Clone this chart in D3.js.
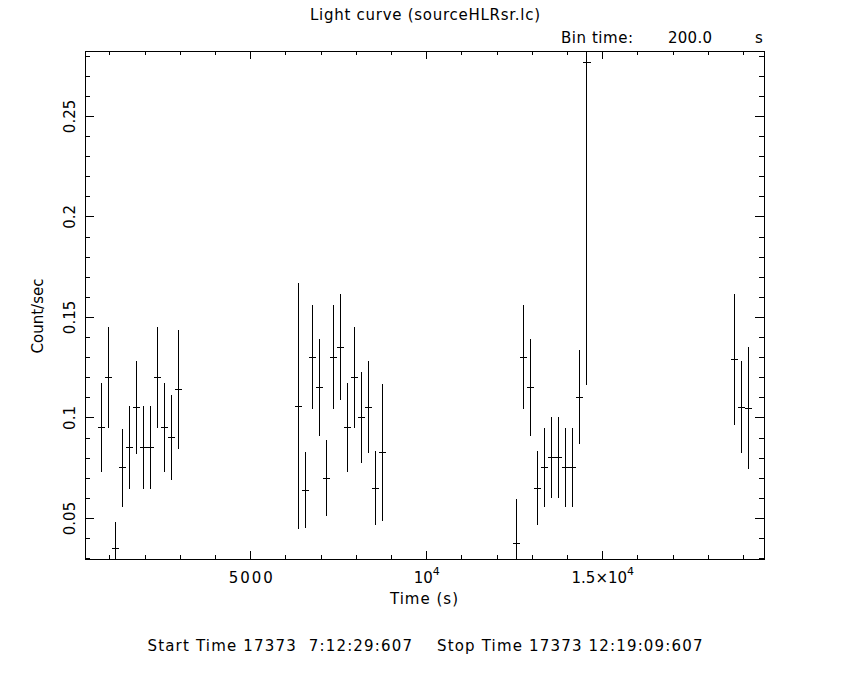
<!DOCTYPE html>
<html>
<head>
<meta charset="utf-8">
<script src="https://cdn.jsdelivr.net/npm/d3@7"></script>
<style>
  body { margin: 0; background: #fff; }
  svg { display: block; }
  text { font-family: "DejaVu Sans", sans-serif; fill: #000; white-space: pre; }
</style>
</head>
<body>
<section></section>
<script>
// light curve bins, 200 s each (time = bin centre, seconds from start)
const times = [
  765, 965, 1165, 1365, 1565, 1765, 1965, 2165, 2365, 2565, 2765, 2965,
  6365, 6565, 6765, 6965, 7165, 7365, 7565, 7765, 7965, 8165, 8365, 8565, 8765,
  12565, 12765, 12965, 13165, 13365, 13565, 13765, 13965, 14165, 14365, 14565,
  18765, 18965, 19165
];
const rates = [
  0.095, 0.120, 0.035, 0.075, 0.085, 0.105, 0.085, 0.085, 0.120, 0.095, 0.090, 0.114,
  0.1056, 0.0638, 0.130, 0.115, 0.0698, 0.130, 0.135, 0.095, 0.120, 0.100, 0.105, 0.0648, 0.0827,
  0.0374, 0.130, 0.115, 0.0648, 0.0752, 0.0802, 0.0802, 0.0752, 0.0752, 0.110, 0.2764,
  0.129, 0.1051, 0.1047
];
const errors = [
  0.022, 0.025, 0.013, 0.0195, 0.0205, 0.023, 0.0205, 0.0205, 0.025, 0.022, 0.0213, 0.0295,
  0.0612, 0.019, 0.026, 0.024, 0.019, 0.026, 0.0265, 0.022, 0.025, 0.0224, 0.0229, 0.0184, 0.034,
  0.022, 0.026, 0.024, 0.0184, 0.0196, 0.0201, 0.0201, 0.0196, 0.0196, 0.0234, 0.16,
  0.0325, 0.023, 0.0304
];
const binHalf = 100;

const yMajor = [0.05, 0.1, 0.15, 0.2, 0.25];
const yMajorLabels = ["0.05", "0.1", "0.15", "0.2", "0.25"];
const xMajor = [5000, 10000, 15000];
const xMajorLabels = [["5000", ""], ["10", "4"], ["1.5\u00d710", "4"]];

const width = 850, height = 680;
const plot = { left: 85, right: 764, top: 51, bottom: 559 };

const svg = d3.select("section")
  .append("svg")
  .attr("width", width)
  .attr("height", height)
  .attr("style", "background-color:#fff");

const x = d3.scaleLinear().domain([304, 19594]).range([plot.left, plot.right]);
const y = d3.scaleLinear().domain([0.0296, 0.2823]).range([plot.bottom, plot.top]);

const xMinor = d3.range(1000, 20000, 1000).filter(d => !xMajor.includes(d));
const yMinor = d3.range(3, 29).map(d => d / 100).filter(d => !yMajor.some(m => Math.abs(m - d) < 1e-9));

// axes (ticks point inwards on all four sides)
function tickAxis(axisFn, scale, values, size, tx, ty) {
  const g = svg.append("g")
    .attr("transform", `translate(${tx},${ty})`)
    .call(axisFn(scale).tickValues(values).tickSize(size).tickFormat(""));
  g.select(".domain").remove();
  g.selectAll("line").attr("stroke", "#000").attr("shape-rendering", "crispEdges");
  return g;
}

tickAxis(d3.axisBottom, x, xMinor, -4, 0, plot.bottom);
tickAxis(d3.axisBottom, x, xMajor, -8, 0, plot.bottom);
tickAxis(d3.axisTop, x, xMinor, -4, 0, plot.top);
tickAxis(d3.axisTop, x, xMajor, -8, 0, plot.top);
tickAxis(d3.axisLeft, y, yMinor, -5, plot.left, 0);
tickAxis(d3.axisLeft, y, yMajor, -9, plot.left, 0);
tickAxis(d3.axisRight, y, yMinor, -5, plot.right, 0);
tickAxis(d3.axisRight, y, yMajor, -9, plot.right, 0);

// y tick labels, rotated like the original
const yLab = svg.append("g")
  .attr("transform", `translate(${plot.left},0)`)
  .call(d3.axisLeft(y).tickValues(yMajor).tickSize(0).tickFormat((d, i) => yMajorLabels[i]));
yLab.select(".domain").remove();
yLab.selectAll("text")
  .attr("x", 0).attr("dy", 0)
  .attr("text-anchor", "middle")
  .attr("font-size", 15)
  .attr("transform", "translate(-10,0) rotate(-90)");

// x tick labels with superscripts
const xLab = svg.append("g")
  .attr("transform", `translate(0,${plot.bottom})`)
  .call(d3.axisBottom(x).tickValues(xMajor).tickSize(0).tickFormat(""));
xLab.select(".domain").remove();
xLab.selectAll(".tick").each(function(d, i) {
  const t = d3.select(this).select("text")
    .attr("y", 24).attr("dy", 0)
    .attr("text-anchor", "middle")
    .attr("font-size", 15);
  const [base, sup] = xMajorLabels[i];
  t.append("tspan").text(base);
  if (sup) t.append("tspan").attr("dy", -8).attr("font-size", 11).text(sup);
});
xLab.selectAll("text").filter((d, i) => i === 0).attr("textLength", 44);

// frame
svg.append("rect")
  .attr("x", plot.left).attr("y", plot.top)
  .attr("width", plot.right - plot.left).attr("height", plot.bottom - plot.top)
  .attr("fill", "none").attr("stroke", "#000")
  .attr("shape-rendering", "crispEdges");

// error bars
svg.append("clipPath").attr("id", "clip")
  .append("rect")
  .attr("x", plot.left).attr("y", plot.top)
  .attr("width", plot.right - plot.left).attr("height", plot.bottom - plot.top);

const pts = times.map((t, i) => ({ t, r: rates[i], e: errors[i] }));
const bars = svg.append("g").attr("clip-path", "url(#clip)")
  .attr("stroke", "#000").attr("shape-rendering", "crispEdges");

bars.selectAll("line.v")
  .data(pts)
  .join("line")
  .attr("class", "v")
  .attr("x1", d => x(d.t)).attr("x2", d => x(d.t))
  .attr("y1", d => y(d.r - d.e)).attr("y2", d => y(d.r + d.e));

bars.selectAll("line.h")
  .data(pts)
  .join("line")
  .attr("class", "h")
  .attr("x1", d => x(d.t - binHalf)).attr("x2", d => x(d.t + binHalf))
  .attr("y1", d => y(d.r)).attr("y2", d => y(d.r));

// titles (widths stretched to match the wider plotter font)
function label(txt, xPos, yPos, anchor, len) {
  const t = svg.append("text").attr("x", xPos).attr("y", yPos)
    .attr("text-anchor", anchor).attr("font-size", 15).text(txt);
  if (len) t.attr("textLength", len).attr("lengthAdjust", "spacing");
  return t;
}
label("Light curve (sourceHLRsr.lc)", 425, 20, "middle", 230);
label("Bin time:", 561, 43, "start", 72);
label("200.0", 712, 43, "end", 44);
label("s", 755, 43, "start");
label("Time (s)", 424, 604, "middle", 68);
label("Start Time 17373  7:12:29:607    Stop Time 17373 12:19:09:607", 425, 651, "middle", 555);
svg.append("text").attr("transform", "translate(43,316) rotate(-90)")
  .attr("text-anchor", "middle").attr("font-size", 15).text("Count/sec");
</script>
</body>
</html>
